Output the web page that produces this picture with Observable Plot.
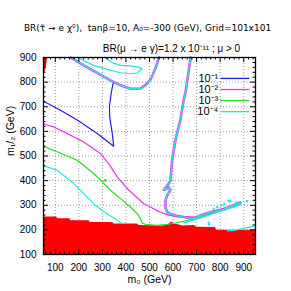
<!DOCTYPE html>
<html><head><meta charset="utf-8">
<script src="https://cdn.jsdelivr.net/npm/d3@7"></script>
<script src="https://cdn.jsdelivr.net/npm/@observablehq/plot@0.6"></script>
<style>body{margin:0;background:#fff}</style>
</head><body><div id="chart"></div>
<script>
const m0Ticks = [100,200,300,400,500,600,700,800,900];
const m12Ticks = [100,200,300,400,500,600,700,800,900];
const legendLabels = ["10⁻¹","10⁻²","10⁻³","10⁻⁴"];
const legendColors = ["#2020ee","#ee33ee","#22dd22","#22e5e5"];

// BR = 1e-1 (blue)
const blueM0  = [50,122,193,278,348,342,331,330,337,346];
const blueM12 = [722,686,646,591,540,591,659,700,754,797];
// BR = 1e-2 (magenta)
const magM0  = [50,94,151,221,292,326,364,408,476,504,545,580,620,660,690,730,780,830,880];
const magM12 = [630,618,591,557,510,470,414,365,306,293,272,260,254,254,252,262,278,292,308];
// BR = 1e-3 (green)
const greenM0  = [50,108,193,263,300,334,377,419,448,462,469,490,533,575,610,650,690,730,773,810];
const greenM12 = [539,517,483,429,395,361,327,293,266,245,227,221,218,222,228,236,246,256,268,280];
const greenDotM0 = [313], greenDotM12 = [401];
// BR = 1e-4 (cyan)
const cyanM0  = [50,108,179,230,270,310,345,384];
const cyanM12 = [460,442,388,338,300,272,250,225];
const cyanInnerM0  = [193,263,320,377,419,448,462,468,454,419,377,342,310];
const cyanInnerM12 = [900,868,852,838,834,837,848,855,861,866,868,879,900];
const cyanLowM0  = [830,860,890,920,950];
const cyanLowM12 = [196,198,204,210,215];
const cyanDotsM0  = [843,818,914,773,787,752,752,836,805,870];
const cyanDotsM12 = [316,306,316,286,293,229,222,318,300,312];
// boundary curves (all levels overlapping)
const edgeTopM0  = [165,221,278,334,377,419,462,485,504,525,540];
const edgeTopM12 = [900,868,838,807,787,773,774,790,810,855,900];
const edgeVertM0  = [675,653,645,631,610,596,589,582,561,582,589,575,568,568,575,603,646,688,716,759,815,857,886];
const edgeVertM12 = [900,760,727,646,564,483,401,388,363,372,363,340,320,290,272,259,252,245,259,272,283,300,311];
const stripeLowM0  = [646,716,787,844,886];
const stripeLowM12 = [229,249,272,289,302];
// excluded (red) regions
const redM0  = [50,106,110,162,166,244,248,344,350,450,455,560,580,595,605,620,640,690,700,780,785,950];
const redM12 = [252,252,245,245,237,237,230,230,224,224,218,216,222,232,222,222,216,218,211,210,198,198];
const redTLm12 = [900,880,860,840,830];
const redTLm0  = [67,65,62,56,50];

const pts = (xs, ys) => xs.map((x, i) => ({x, y: ys[i]}));
const minorX = d3.range(60, 950, 20).filter(d => d % 100 !== 0);
const minorY = d3.range(120, 900, 20).filter(d => d % 100 !== 0);
const legend = legendLabels.map((label, i) => ({label, color: legendColors[i], y: 815 - i * 45}));

const font = "'Liberation Sans', Arial, sans-serif";
const chart = Plot.plot({
  width: 291, height: 291,
  marginLeft: 43, marginRight: 36, marginTop: 57, marginBottom: 37,
  x: {domain: [50, 950]},
  y: {domain: [100, 900]},
  style: {fontFamily: font, fontSize: "10px", background: "white", color: "black"},
  marks: [
    Plot.gridX(m0Ticks, {stroke: "#999", strokeOpacity: 1, strokeDasharray: "1,2"}),
    Plot.gridY(m12Ticks, {stroke: "#999", strokeOpacity: 1, strokeDasharray: "1,2"}),
    Plot.areaY(pts(redM0, redM12), {x: "x", y1: 100, y2: "y", fill: "#ff0000"}),
    Plot.areaX(pts(redTLm0, redTLm12), {y: "y", x1: 50, x2: "x", fill: "#ff0000"}),
    Plot.line(pts(edgeTopM0, edgeTopM12), {x: "x", y: "y", stroke: "#ee33ee", strokeWidth: 2.6}),
    Plot.line(pts(edgeVertM0, edgeVertM12), {x: "x", y: "y", stroke: "#ee33ee", strokeWidth: 2.6}),
    Plot.line(pts(blueM0, blueM12), {x: "x", y: "y", stroke: legendColors[0], strokeWidth: 1.2}),
    Plot.line(pts(magM0, magM12), {x: "x", y: "y", stroke: legendColors[1], strokeWidth: 1.2}),
    Plot.line(pts(greenM0, greenM12), {x: "x", y: "y", stroke: legendColors[2], strokeWidth: 1.2}),
    Plot.dot(pts(greenDotM0, greenDotM12), {x: "x", y: "y", r: 1.3, fill: legendColors[2]}),
    Plot.line(pts(cyanM0, cyanM12), {x: "x", y: "y", stroke: legendColors[3], strokeWidth: 1.2}),
    Plot.line(pts(cyanInnerM0, cyanInnerM12), {x: "x", y: "y", stroke: legendColors[3], strokeWidth: 1.2}),
    Plot.line(pts(cyanLowM0, cyanLowM12), {x: "x", y: "y", stroke: legendColors[3], strokeWidth: 1.2}),
    Plot.line(pts(stripeLowM0, stripeLowM12), {x: "x", y: "y", stroke: legendColors[3], strokeWidth: 1.4}),
    Plot.line(pts(edgeTopM0, edgeTopM12), {x: "x", y: "y", stroke: legendColors[3], strokeWidth: 1.4}),
    Plot.line(pts(edgeVertM0, edgeVertM12), {x: "x", y: "y", stroke: legendColors[3], strokeWidth: 1.4}),
    Plot.dot(pts(cyanDotsM0, cyanDotsM12), {x: "x", y: "y", r: 1.2, fill: legendColors[3]}),
    // legend
    Plot.text(legend, {x: 792, y: "y", text: "label", textAnchor: "end", fontSize: 11}),
    Plot.link(legend, {x1: 801, x2: 924, y1: "y", y2: "y", stroke: "color", strokeWidth: 1.3}),
    // frame & ticks
    Plot.frame({stroke: "black", strokeWidth: 1.3}),
    Plot.tickX(m0Ticks, {x: d => d, insetTop: 192}),
    Plot.tickX(m0Ticks, {x: d => d, insetBottom: 192}),
    Plot.tickX(minorX, {x: d => d, insetTop: 194.5}),
    Plot.tickX(minorX, {x: d => d, insetBottom: 194.5}),
    Plot.tickY(m12Ticks, {y: d => d, insetRight: 207}),
    Plot.tickY(m12Ticks, {y: d => d, insetLeft: 207}),
    Plot.tickY(minorY, {y: d => d, insetRight: 209.5}),
    Plot.tickY(minorY, {y: d => d, insetLeft: 209.5}),
    Plot.axisX(m0Ticks, {tickSize: 0, tickPadding: 9, label: null, fontSize: 10}),
    Plot.axisY(m12Ticks, {tickSize: 0, tickPadding: 7, label: null, fontSize: 10}),
    // titles and axis labels
    Plot.text(["BR(τ\u0303 → e χ⁰),  tanβ=10, A₀=-300 (GeV), Grid=101x101"], {frameAnchor: "top", dx: -2, dy: -33, fontSize: 10, fontFamily: "'DejaVu Sans', sans-serif", fontSize: 9}),
    Plot.text(["BR(μ → e γ)=1.2 x 10⁻¹¹ ; μ > 0"], {frameAnchor: "top", dx: 22, dy: -13, fontSize: 10}),
    Plot.text(["m₀ (GeV)"], {frameAnchor: "bottom", dy: 28, fontSize: 10.5}),
    Plot.text(["m₁/₂ (GeV)"], {frameAnchor: "left", dx: -33, rotate: -90, fontSize: 10.5})
  ]
});
document.getElementById("chart").append(chart);
</script>
</body></html>
